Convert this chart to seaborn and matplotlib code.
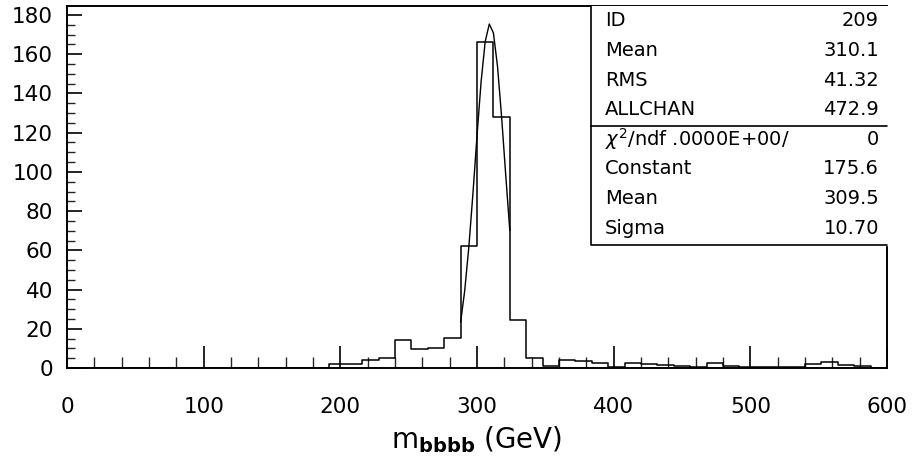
import numpy as np
import pandas as pd
import matplotlib
matplotlib.use("Agg")
import matplotlib.pyplot as plt
import seaborn as sns
from matplotlib.ticker import MultipleLocator

# ---- data ----
bin_edges = list(range(0, 601, 12))
counts = [0, 0, 0, 0, 0, 0, 0, 0, 0, 0,
          0, 0, 0, 0, 0, 0, 1.8, 2.2, 4.0, 5.3,
          14.2, 9.8, 10.2, 15.5, 62.0, 166.0, 128.0, 24.5, 5.0, 1.0,
          4.2, 3.5, 2.8, 0.7, 2.4, 2.2, 1.7, 1.0, 0.5, 2.4,
          1.0, 0.5, 0.3, 0.3, 0.5, 2.2, 3.3, 1.7, 1.0, 0.0]
fit_x = [288, 291, 294, 297, 300, 303, 306, 309, 312, 315, 318, 321, 324]
fit_y = [23.3, 39.4, 61.5, 88.7, 118.4, 146.0, 166.5, 175.4, 170.9, 153.9, 128.1, 98.6, 70.1]

stat_names = ["ID", "Mean", "RMS", "ALLCHAN"]
stat_values = ["209", "310.1", "41.32", "472.9"]
fit_names = [r"$\chi^2$/ndf .0000E+00/", "Constant", "Mean", "Sigma"]
fit_values = ["0", "175.6", "309.5", "10.70"]

x_ticks = [0, 100, 200, 300, 400, 500, 600]
y_ticks = [0, 20, 40, 60, 80, 100, 120, 140, 160, 180]

# ---- plot ----
sns.set_theme(style="ticks")
plt.rcParams["font.family"] = ["DejaVu Sans"]
plt.rcParams["mathtext.fontset"] = "dejavusans"

fig = plt.figure(figsize=(9.14, 4.68), dpi=100)
ax = fig.add_axes([67 / 914, 1 - 368 / 468, 820 / 914, 362 / 468])

centers = [(bin_edges[i] + bin_edges[i + 1]) / 2 for i in range(len(counts))]
df = pd.DataFrame({"m": centers, "w": counts})
sns.histplot(data=df, x="m", weights="w", bins=bin_edges, element="step",
             fill=False, color="black", linewidth=1.1, ax=ax)
sns.lineplot(x=fit_x, y=fit_y, color="black", linewidth=1.0, ax=ax,
             estimator=None, sort=False)

ax.set_xlim(0, 600)
ax.set_ylim(0, 184.6)
ax.set_xticks(x_ticks)
ax.set_yticks(y_ticks)
ax.xaxis.set_minor_locator(MultipleLocator(20))
ax.yaxis.set_minor_locator(MultipleLocator(5))
ax.tick_params(axis="x", which="major", direction="in", length=16, width=1.2,
               pad=21, labelsize=15.5, colors="black")
ax.tick_params(axis="x", which="minor", direction="in", length=8, width=1.0)
ax.tick_params(axis="y", which="major", direction="in", length=11, width=1.2,
               pad=10, labelsize=15.5, colors="black")
ax.tick_params(axis="y", which="minor", direction="in", length=6, width=1.0)
for s in ax.spines.values():
    s.set_visible(True)
    s.set_linewidth(1.4)
    s.set_color("black")

ax.set_ylabel("")
ax.set_xlabel("m$_{\\mathbf{bbbb}}$ (GeV)", fontsize=20, color="black")
ax.xaxis.label.set_va("center")
ax.xaxis.set_label_coords(0.5, (368 - 440) / 362)

# ---- statistics box ----
def ax_y(py):
    return (368 - py) / 362

def ax_x(px):
    return (px - 67) / 820

bx0, bx1 = ax_x(591), 1.0
by_top, by_sep, by_bot = ax_y(6), ax_y(126), ax_y(245)
ax.fill_between([bx0, bx1], [by_bot, by_bot], [by_top, by_top],
                transform=ax.transAxes, color="white", zorder=4)
ax.plot([bx0, bx0, bx1], [by_top, by_bot, by_bot], transform=ax.transAxes,
        color="black", lw=1.2, zorder=5, clip_on=False)
ax.plot([bx0, bx1], [by_sep, by_sep], transform=ax.transAxes,
        color="black", lw=1.2, zorder=5, clip_on=False)

names = stat_names + fit_names
values = stat_values + fit_values
for i, (n, v) in enumerate(zip(names, values)):
    py = 21 + 29.6 * i
    ax.text(ax_x(605), ax_y(py), n, transform=ax.transAxes, ha="left",
            va="center", fontsize=14, color="black", zorder=6)
    ax.text(ax_x(879), ax_y(py), v, transform=ax.transAxes, ha="right",
            va="center", fontsize=14, color="black", zorder=6)

fig.savefig("out.png", dpi=100, facecolor="white")
